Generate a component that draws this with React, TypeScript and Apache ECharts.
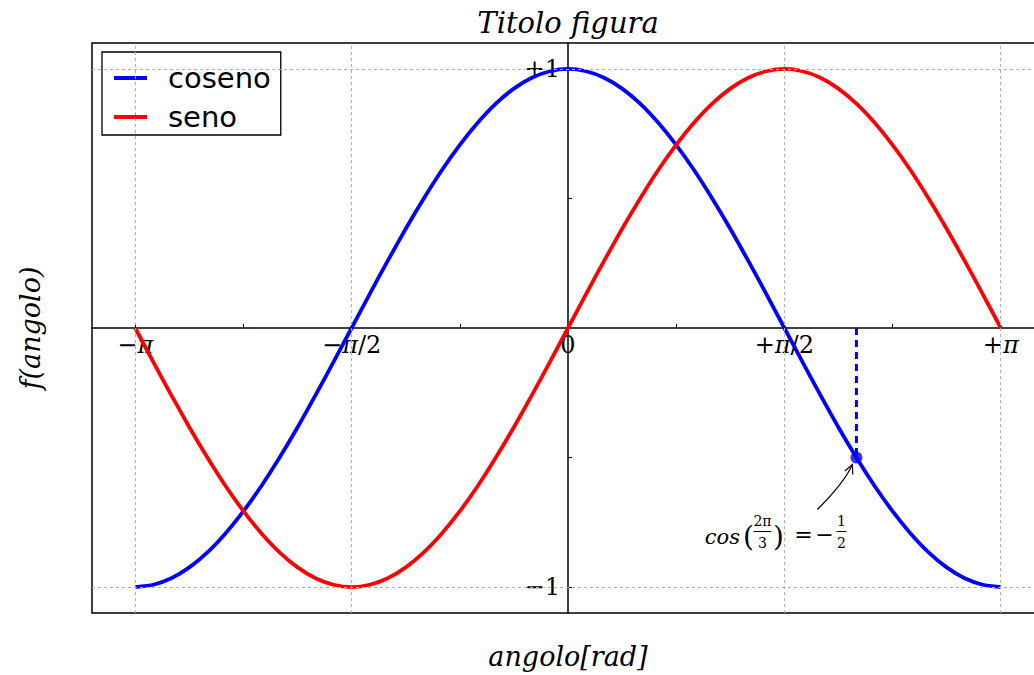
import React, { useEffect, useRef } from 'react';
import * as echarts from 'echarts';

const PI = Math.PI;

// Angle samples (rad) and the two curves read at each of them.
const ANGOLI = [
  -3.142, -3.011, -2.880, -2.749, -2.618, -2.487, -2.356, -2.225, -2.094, -1.963, -1.833,
  -1.702, -1.571, -1.440, -1.309, -1.178, -1.047, -0.916, -0.785, -0.654, -0.524, -0.393,
  -0.262, -0.131, 0, 0.131, 0.262, 0.393, 0.524, 0.654, 0.785, 0.916, 1.047, 1.178, 1.309,
  1.440, 1.571, 1.702, 1.833, 1.963, 2.094, 2.225, 2.356, 2.487, 2.618, 2.749, 2.880, 3.011,
  3.142,
];
const COSENO = [
  -1, -0.991, -0.966, -0.924, -0.866, -0.793, -0.707, -0.609, -0.5, -0.383, -0.259, -0.131,
  0, 0.131, 0.259, 0.383, 0.5, 0.609, 0.707, 0.793, 0.866, 0.924, 0.966, 0.991, 1, 0.991,
  0.966, 0.924, 0.866, 0.793, 0.707, 0.609, 0.5, 0.383, 0.259, 0.131, 0, -0.131, -0.259,
  -0.383, -0.5, -0.609, -0.707, -0.793, -0.866, -0.924, -0.966, -0.991, -1,
];
const SENO = [
  0, -0.131, -0.259, -0.383, -0.5, -0.609, -0.707, -0.793, -0.866, -0.924, -0.966, -0.991,
  -1, -0.991, -0.966, -0.924, -0.866, -0.793, -0.707, -0.609, -0.5, -0.383, -0.259, -0.131,
  0, 0.131, 0.259, 0.383, 0.5, 0.609, 0.707, 0.793, 0.866, 0.924, 0.966, 0.991, 1, 0.991,
  0.966, 0.924, 0.866, 0.793, 0.707, 0.609, 0.5, 0.383, 0.259, 0.131, 0,
];

// Axis ticks
const X_TICKS = [-PI, -PI / 2, 0, PI / 2, PI];
const X_TICK_LABELS = ['{n|−}{p|π}', '{n|−}{p|π}{n|/2}', '{n|0}', '{n|+}{p|π}{n|/2}', '{n|+}{p|π}'];
const X_MINOR_TICKS = [-3 * PI / 4, -PI / 4, PI / 4, 3 * PI / 4];
const Y_TICKS = [-1, 1];
const Y_TICK_LABELS = ['−1', '+1'];
const Y_MINOR_TICKS = [-0.5, 0.5];

// Annotated point: cos(2π/3) = -1/2
const PUNTO_X = 2.094;
const PUNTO_Y = -0.5;

const X_LIM = 1.1 * PI;
const Y_LIM = 1.1;

const GRID = { left: 92, top: 43, width: 952, height: 570 };

const SERIF = '"DejaVu Serif", "Liberation Serif", serif';
const SANS = '"DejaVu Sans", sans-serif';

function label(text: string, x: number, y: number, size: number, italic: boolean, extra: any = {}) {
  return {
    type: 'text',
    x,
    y,
    silent: true,
    ...extra,
    style: {
      text,
      fontFamily: SERIF,
      fontSize: size,
      fontStyle: italic ? 'italic' : 'normal',
      fill: '#000',
      align: 'center',
      verticalAlign: 'middle',
    },
  };
}

function annotation(chart: any) {
  const [px, py] = chart.convertToPixel({ gridIndex: 0 }, [PUNTO_X, PUNTO_Y]);
  const els: any[] = [];
  const ty = py + 79;
  els.push(label('cos', px - 134, ty, 21, true));
  els.push(label('(', px - 108, ty, 28, false));
  // 2π / 3
  els.push(label('2π', px - 94, py + 63, 14, false));
  els.push({ type: 'line', silent: true, shape: { x1: px - 103, y1: py + 74, x2: px - 85, y2: py + 74 }, style: { stroke: '#000', lineWidth: 1 } });
  els.push(label('3', px - 94, py + 85, 14, false));
  els.push(label(')', px - 78, ty, 28, false));
  els.push(label('=', px - 53, ty - 2, 22, false));
  els.push(label('−', px - 32, ty - 2, 22, false));
  // 1 / 2
  els.push(label('1', px - 15, py + 63, 14, false));
  els.push({ type: 'line', silent: true, shape: { x1: px - 20, y1: py + 74, x2: px - 10, y2: py + 74 }, style: { stroke: '#000', lineWidth: 1 } });
  els.push(label('2', px - 15, py + 85, 14, false));

  // curved arrow from the text to the point
  const sx = px - 39, sy = py + 52;
  const cx = px - 12, cy = py + 25;
  const ex = px - 4, ey = py + 7;
  els.push({
    type: 'bezierCurve',
    silent: true,
    shape: { x1: sx, y1: sy, x2: ex, y2: ey, cpx1: cx, cpy1: cy },
    style: { stroke: '#000', lineWidth: 1.2, fill: 'none' },
  });
  const dx = ex - cx, dy = ey - cy;
  const len = Math.hypot(dx, dy);
  const bx = -dx / len, by = -dy / len;
  const head = (a: number) => {
    const c = Math.cos(a), s = Math.sin(a);
    return [ex + 10 * (bx * c - by * s), ey + 10 * (bx * s + by * c)];
  };
  const h1 = head(0.45), h2 = head(-0.45);
  els.push({
    type: 'polyline',
    silent: true,
    shape: { points: [h1, [ex, ey], h2] },
    style: { stroke: '#000', lineWidth: 1.2, fill: 'none' },
  });
  return els;
}

export default function App() {
  const ref = useRef<HTMLDivElement>(null);

  useEffect(() => {
    if (!ref.current) return;
    const chart = echarts.init(ref.current, null, { renderer: 'svg' });

    const gridLineStyle = { color: '#b0b0b0', width: 1, type: [3, 3] as any };
    const tickFont = { fontFamily: SERIF, fontSize: 24, color: '#000' };

    chart.setOption({
      animation: false,
      backgroundColor: '#fff',
      grid: {
        ...GRID,
        outerBoundsMode: 'none',
        containLabel: false,
        show: true,
        borderColor: '#000',
        borderWidth: 1.5,
        backgroundColor: 'transparent',
      },
      legend: {
        data: ['coseno', 'seno'],
        orient: 'vertical',
        left: 102,
        top: 52,
        icon: 'rect',
        itemWidth: 33,
        itemHeight: 4,
        itemGap: 9,
        padding: [11, 10, 3, 12],
        borderColor: '#000',
        borderWidth: 1.3,
        backgroundColor: '#fff',
        selectedMode: false,
        textStyle: {
          fontFamily: SANS,
          fontSize: 29,
          lineHeight: 30,
          color: '#000',
          padding: [0, 0, 0, 16],
        },
      },
      xAxis: {
        type: 'value',
        min: -X_LIM,
        max: X_LIM,
        axisLine: { onZero: false, lineStyle: { color: '#000', width: 1.5 } },
        axisTick: {
          show: true,
          inside: true,
          length: 4,
          customValues: [...X_TICKS, ...X_MINOR_TICKS],
          lineStyle: { color: '#000', width: 1 },
        },
        axisLabel: {
          customValues: X_TICKS,
          formatter: (v: number) => {
            const i = X_TICKS.findIndex((t) => Math.abs(t - v) < 1e-6);
            return i >= 0 ? X_TICK_LABELS[i] : '';
          },
          ...tickFont,
          margin: 5,
          rich: {
            n: { ...tickFont },
            p: { ...tickFont, fontStyle: 'italic' },
          },
        },
        splitLine: { show: false },
      },
      yAxis: {
        type: 'value',
        min: -Y_LIM,
        max: Y_LIM,
        axisLine: { onZero: false, lineStyle: { color: '#000', width: 1.5 } },
        axisTick: {
          show: true,
          inside: true,
          length: 4,
          customValues: [...Y_TICKS, ...Y_MINOR_TICKS],
          lineStyle: { color: '#000', width: 1 },
        },
        axisLabel: {
          customValues: Y_TICKS,
          formatter: (v: number) => {
            const i = Y_TICKS.findIndex((t) => Math.abs(t - v) < 1e-6);
            return i >= 0 ? Y_TICK_LABELS[i] : '';
          },
          ...tickFont,
          margin: 8,
        },
        splitLine: { show: false },
      },
      series: [
        {
          // dashed grid
          name: 'griglia',
          type: 'line',
          data: [],
          z: 1,
          silent: true,
          markLine: {
            silent: true,
            symbol: 'none',
            label: { show: false },
            lineStyle: gridLineStyle,
            data: [
              ...X_TICKS.filter((v) => v !== 0).map((v) => ({ xAxis: v })),
              ...Y_TICKS.map((v) => ({ yAxis: v })),
            ],
          },
        },
        {
          name: 'coseno',
          type: 'line',
          data: ANGOLI.map((a, i) => [a, COSENO[i]]),
          smooth: 0.2,
          showSymbol: false,
          z: 3,
          lineStyle: { color: '#0000ff', width: 3.8 },
          itemStyle: { color: '#0000ff' },
        },
        {
          name: 'seno',
          type: 'line',
          data: ANGOLI.map((a, i) => [a, SENO[i]]),
          smooth: 0.2,
          showSymbol: false,
          z: 3,
          lineStyle: { color: '#ff0000', width: 3.8 },
          itemStyle: { color: '#ff0000' },
        },
        {
          name: 'proiezione',
          type: 'line',
          data: [[PUNTO_X, 0], [PUNTO_X, PUNTO_Y]],
          showSymbol: false,
          z: 4,
          lineStyle: { color: '#0000ff', width: 3, type: [7, 5] as any },
        },
        {
          name: 'punto',
          type: 'scatter',
          data: [[PUNTO_X, PUNTO_Y]],
          symbol: 'circle',
          symbolSize: 12,
          z: 5,
          itemStyle: { color: '#0000ff' },
        },
      ],
    });

    // Move both axes (line, ticks, labels) onto the origin, like centred spines.
    const [zx, zy] = chart.convertToPixel({ gridIndex: 0 }, [0, 0]);
    chart.setOption({
      xAxis: { offset: -(GRID.top + GRID.height - zy) },
      yAxis: { offset: -(zx - GRID.left) },
    });

    chart.setOption({
      graphic: [
        label('Titolo figura', zx, 23, 29, true),
        label('angolo[rad]', zx, 656, 27, true),
        label('f(angolo)', 30, zy, 27, true, { rotation: Math.PI / 2 }),
        ...annotation(chart),
      ],
    });

    return () => chart.dispose();
  }, []);

  return (
    <div
      ref={ref}
      style={{ position: 'fixed', left: 0, top: 0, width: 1034, height: 675, background: '#fff' }}
    />
  );
}
